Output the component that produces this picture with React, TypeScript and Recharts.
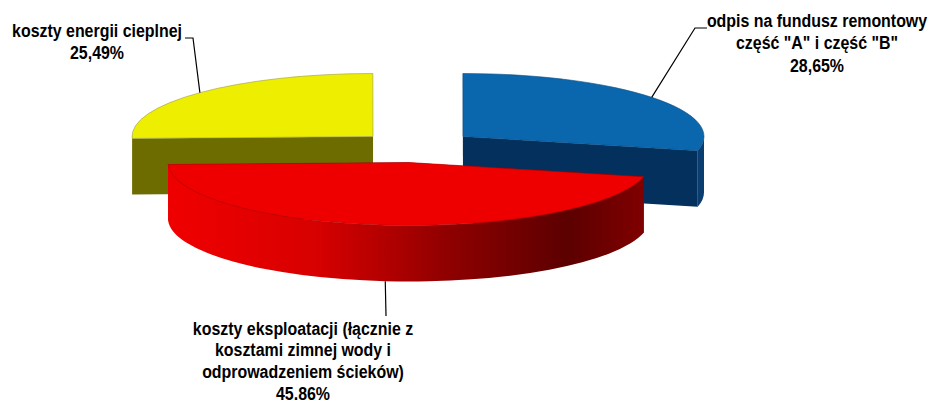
import { PieChart, Pie } from 'recharts';

const names = ['koszty energii cieplnej', 'odpis na fundusz remontowy', 'koszty eksploatacji'];
const values = [25.49, 28.65, 45.86];
const labelLines = [
  ['koszty energii cieplnej', '25,49%'],
  ['odpis na fundusz remontowy', 'część "A" i część "B"', '28,65%'],
  ['koszty eksploatacji (łącznie z', 'kosztami zimnej wody i', 'odprowadzeniem ścieków)', '45.86%'],
];

const data = names.map((name, i) => ({ name, value: values[i] }));

// fake 3D look: flattened pie, each slice pulled out of the middle
const RX = 241;
const RY = 63;
const DEPTH = 56;
const explode = [[-45, 0], [45, 0], [-9, 26]];
const topColors = ['#eeee00', '#0a66ad', '#ee0000'];
const edgeColors = ['#9a9a50', '#0a4a80', '#b00000'];
const sideColors = ['#6c6c00', '#03305c', 'url(#redWall)'];
const wallColors = ['#6c6c00', '#0a3d70', 'url(#redWall)'];
const redStops = [
  [0.03, '#ee0000'],
  [0.31, '#d80000'],
  [0.45, '#b40000'],
  [0.59, '#8f0000'],
  [0.84, '#5c0000'],
  [1, '#800000'],
] as const;

// text position + leader elbow for each slice
const textPos = [
  { x: 97, y: 37, step: 22.5 },
  { x: 817, y: 27, step: 22.5 },
  { x: 303, y: 334.5, step: 22 },
];
const elbows = [
  [[193, 38], [185, 38]],
  [[695, 28], [707, 28]],
  [[386, 316]],
];
// the reference font is a narrow one, so a wider face gets squeezed
const TEXT_SCALE = 0.83;

const pt = (cx: number, cy: number, t: number, dy = 0) => {
  const r = (t * Math.PI) / 180;
  return [cx + RX * Math.cos(r), cy + RY * Math.sin(r) + dy];
};

const fmt = (p: number[]) => `${p[0].toFixed(2)} ${p[1].toFixed(2)}`;

function Slice(props: any) {
  const { cx, cy, startAngle, endAngle, index } = props;
  const ox = cx + explode[index][0];
  const oy = cy + explode[index][1];
  let t0 = -startAngle % 360;
  if (t0 < 0) t0 += 360;
  const t1 = t0 + Math.abs(endAngle - startAngle);
  const large = t1 - t0 > 180 ? 1 : 0;

  const a = pt(ox, oy, t0);
  const b = pt(ox, oy, t1);
  const c = [ox, oy];
  const top = `M${fmt(c)} L${fmt(a)} A${RX} ${RY} 0 ${large} 1 ${fmt(b)} Z`;

  const cut = (p: number[]) =>
    `M${fmt(c)} L${fmt(p)} L${p[0]} ${p[1] + DEPTH} L${ox} ${oy + DEPTH} Z`;

  // only the part of the rim that faces the viewer
  const walls: string[] = [];
  [[0, 180], [360, 540]].forEach(([lo, hi]) => {
    const s = Math.max(t0, lo);
    const e = Math.min(t1, hi);
    if (e <= s) return;
    const p = pt(ox, oy, s);
    const q = pt(ox, oy, e);
    const pd = pt(ox, oy, s, DEPTH);
    const qd = pt(ox, oy, e, DEPTH);
    walls.push(
      `M${fmt(p)} A${RX} ${RY} 0 0 1 ${fmt(q)} L${fmt(qd)} A${RX} ${RY} 0 0 0 ${fmt(pd)} Z`
    );
  });

  return (
    <g>
      <defs>
        <linearGradient id="redWall" x1="0" y1="0" x2="1" y2="0">
          {redStops.map(([o, col]) => (
            <stop key={o} offset={o} stopColor={col} />
          ))}
        </linearGradient>
      </defs>
      <path d={cut(a)} fill={sideColors[index]} />
      <path d={cut(b)} fill={sideColors[index]} />
      {walls.map((d) => (
        <path key={d} d={d} fill={wallColors[index]} />
      ))}
      <path d={top} fill={topColors[index]} stroke={edgeColors[index]} strokeWidth={0.6} />
    </g>
  );
}

function anchorOf(props: any) {
  const { cx, cy, midAngle, index } = props;
  let t = -midAngle % 360;
  if (t < 0) t += 360;
  const front = Math.sin((t * Math.PI) / 180) > 0;
  return pt(cx + explode[index][0], cy + explode[index][1], t, front ? DEPTH : 0);
}

function LeaderLine(props: any) {
  const start = anchorOf(props);
  const pts = [start, ...elbows[props.index]].map((p) => p.join(',')).join(' ');
  return <polyline points={pts} fill="none" stroke="#000" strokeWidth={1.2} />;
}

function SliceLabel(props: any) {
  const pos = textPos[props.index];
  return (
    <text
      transform={`translate(${pos.x} ${pos.y}) scale(${TEXT_SCALE} 1)`}
      textAnchor="middle"
      fontFamily="'Liberation Sans', sans-serif"
      fontWeight={700}
      fontSize={19.2}
      fill="#000"
    >
      {labelLines[props.index].map((line, i) => (
        <tspan key={line} x={0} y={i * pos.step}>
          {line}
        </tspan>
      ))}
    </text>
  );
}

export default function App() {
  return (
    <div style={{ position: 'absolute', left: 0, top: 0, width: 930, height: 402, background: '#fff' }}>
      <PieChart width={930} height={402} margin={{ top: 0, right: 0, bottom: 0, left: 0 }}>
        <Pie
          data={data}
          dataKey="value"
          nameKey="name"
          cx={418}
          cy={136.5}
          outerRadius={RX}
          startAngle={-178.2}
          endAngle={-538.2}
          stroke="none"
          isAnimationActive={false}
          shape={Slice}
          label={SliceLabel}
          labelLine={LeaderLine}
        />
      </PieChart>
    </div>
  );
}
